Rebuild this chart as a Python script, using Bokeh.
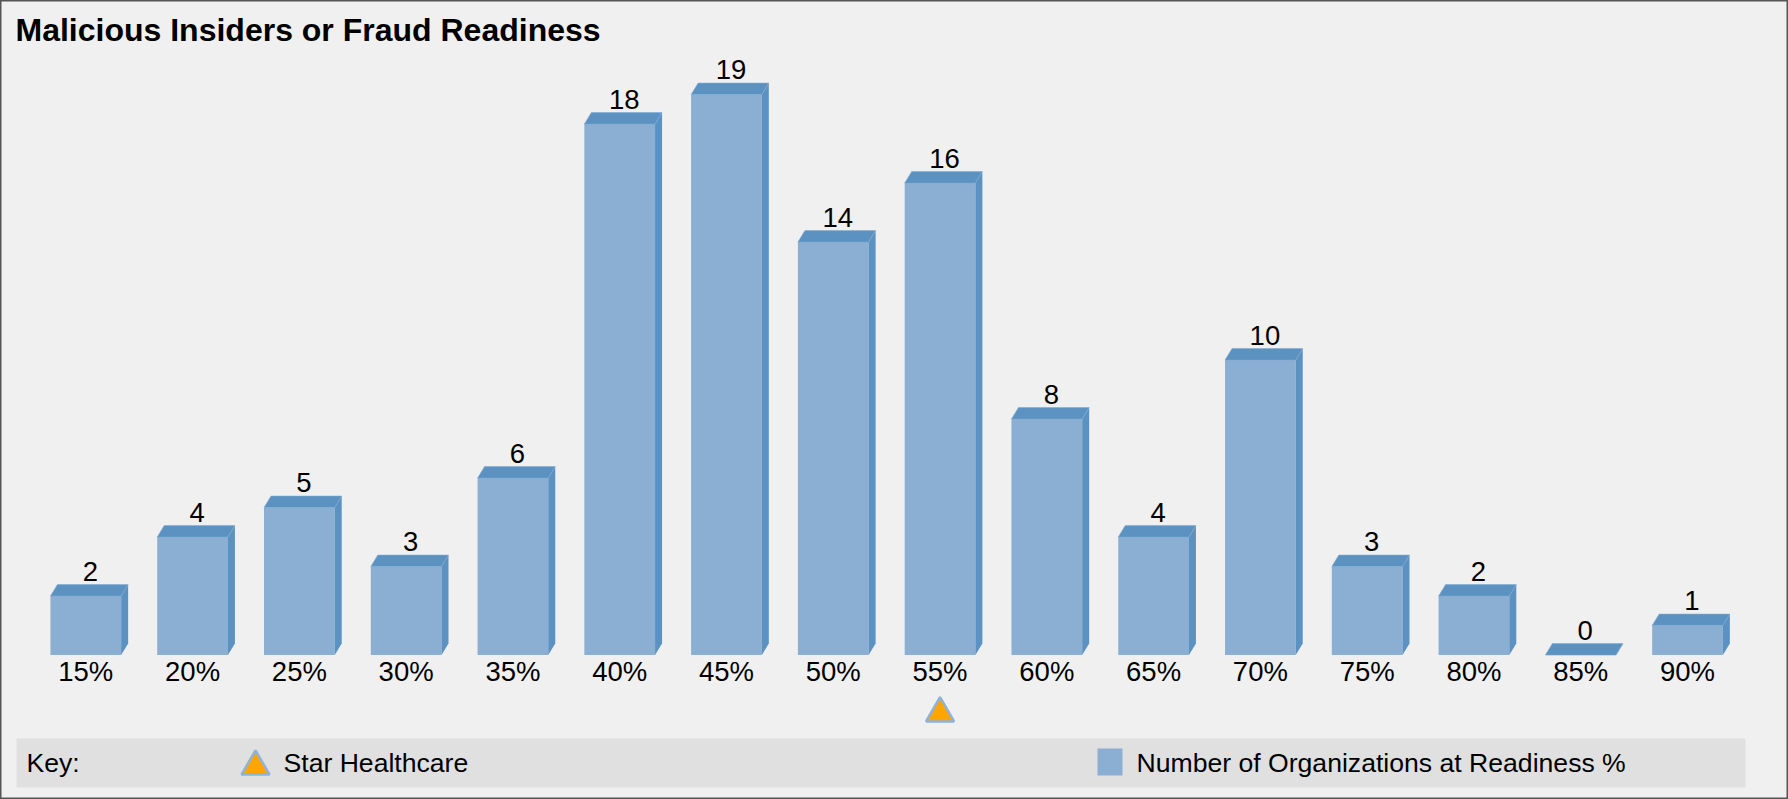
from bokeh.plotting import figure
from bokeh.models import ColumnDataSource, Range1d
from bokeh.core.properties import value
from bokeh.embed import file_html
from bokeh.resources import INLINE

# ---------------- data ----------------
title = "Malicious Insiders or Fraud Readiness"
categories = ["15%", "20%", "25%", "30%", "35%", "40%", "45%", "50%",
              "55%", "60%", "65%", "70%", "75%", "80%", "85%", "90%"]
counts = [2, 4, 5, 3, 6, 18, 19, 14, 16, 8, 4, 10, 3, 2, 0, 1]
star_name = "Star Healthcare"
star_category = "55%"
series_name = "Number of Organizations at Readiness %"
key_label = "Key:"

# ---------------- layout (pixels) ----------------
W, H = 1788, 799
SLOT = 106.78      # px per category
X_FIRST = 85.3     # px centre of first bar
BASE = 654.6       # px (from top) of baseline
UNIT = 29.5        # px per organization

FRONT = "#8AAFD2"
DARK = "#5B92C2"
BG = "#F0F0F0"
KEYBG = "#E0E0E0"
FONT = "Liberation Sans"


def sx(px):
    return (px - X_FIRST) / SLOT


def sy(py):
    return (BASE - py) / UNIT


def dxu(px):
    return px / SLOT


def dyu(px):
    return px / UNIT


p = figure(width=W, height=H, x_range=Range1d(sx(0), sx(W)), y_range=Range1d(sy(H), sy(0)),
           output_backend="svg", toolbar_location=None, x_axis_location=None,
           y_axis_location=None, min_border=0, min_border_left=0, min_border_right=0,
           min_border_top=0, min_border_bottom=0)
p.grid.visible = False
p.background_fill_color = BG
p.border_fill_color = BG
p.outline_line_color = "#555555"
p.outline_line_width = 2

# key band
p.quad(left=[sx(16)], right=[sx(1745)], top=[sy(738)], bottom=[sy(787)],
       fill_color=KEYBG, line_color=None)

xs = list(range(len(categories)))
BW = dxu(70.7)
DX = dxu(7)
DY = dyu(11.5)

# front faces
p.vbar(x=xs, top=counts, bottom=0, width=BW, fill_color=FRONT, line_color=None)

# side and top faces
side_x, side_y = [], []
top_x, top_y = [], []
for x, v in zip(xs, counts):
    r = x + BW / 2
    l = x - BW / 2
    if v > 0:
        side_x.append([r, r + DX, r + DX, r])
        side_y.append([0, DY, v + DY, v])
    top_x.append([l, r, r + DX, l + DX])
    top_y.append([v, v, v + DY, v + DY])
p.patches(xs=side_x, ys=side_y, fill_color=DARK, line_color=None)
p.patches(xs=top_x, ys=top_y, fill_color=DARK, line_color="#7FA9D0", line_width=0.6)

# value labels
lab = ColumnDataSource(dict(x=[x + dxu(4.5) for x in xs],
                            y=[v + DY + dyu(13.6) for v in counts],
                            t=[str(v) for v in counts]))
p.text(x="x", y="y", text="t", source=lab, text_align="center", text_baseline="middle",
       text_font=value(FONT), text_font_size="27.5px", text_color="#000000")

# category labels
cat = ColumnDataSource(dict(x=xs, y=[sy(671)] * len(xs), t=categories))
p.text(x="x", y="y", text="t", source=cat, text_align="center", text_baseline="middle",
       text_font=value(FONT), text_font_size="27.5px", text_color="#000000")

# Star Healthcare marker
p.scatter(x=[categories.index(star_category)], y=[sy(712.9)], marker="triangle", size=28,
          fill_color="#FFA500", line_color="#8DB3DA", line_width=2.5)

# title
p.text(x=[sx(15)], y=[sy(29.5)], text=[title], text_align="left", text_baseline="middle",
       text_font=value(FONT), text_font_size="32px", text_font_style="bold", text_color="#000000")

# key
p.text(x=[sx(26), sx(283), sx(1136)], y=[sy(762)] * 3, text=[key_label, star_name, series_name],
       text_align="left", text_baseline="middle", text_font=value(FONT), text_font_size="26.6px",
       text_color="#000000")
p.scatter(x=[sx(255)], y=[sy(766)], marker="triangle", size=28,
          fill_color="#FFA500", line_color="#8DB3DA", line_width=2.5)
p.rect(x=[sx(1109.5)], y=[sy(761.5)], width=25, height=27, width_units="screen",
       height_units="screen", fill_color=FRONT, line_color=None)

open("out.html", "w").write(file_html(p, INLINE))
